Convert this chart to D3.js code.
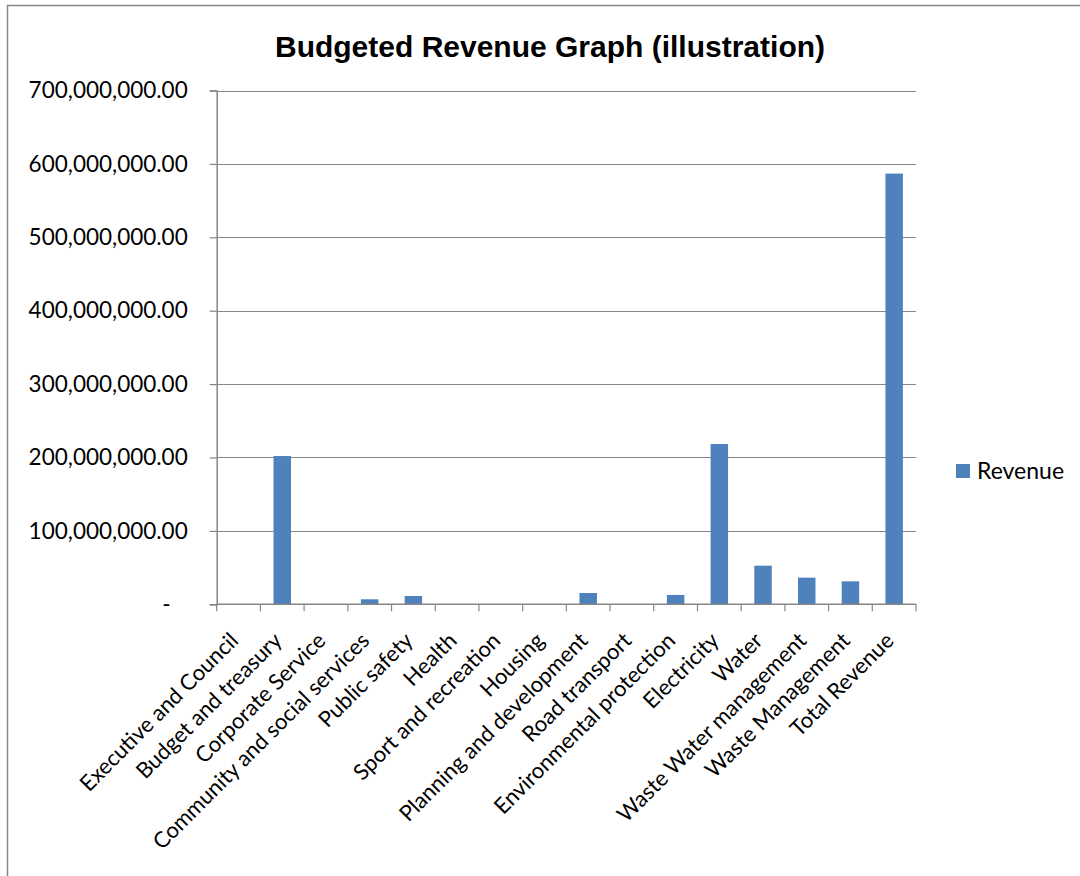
<!DOCTYPE html>
<html>
<head>
<meta charset="utf-8">
<script src="https://cdn.jsdelivr.net/npm/d3@7"></script>
<style>
  body { margin: 0; background: #fff; }
  svg { display: block; }
</style>
</head>
<body>
<script>
// chart data
var categories = ["Executive and Council", "Budget and treasury", "Corporate Service",
  "Community and social services", "Public safety", "Health", "Sport and recreation",
  "Housing", "Planning and development", "Road transport", "Environmental protection",
  "Electricity", "Water", "Waste Water management", "Waste Management", "Total Revenue"];
var revenue = [0, 202000000, 0, 6800000, 11300000, 0, 0, 0, 15400000, 0, 12700000,
  218400000, 52600000, 36300000, 31300000, 586800000];
var yTicks = [0, 100000000, 200000000, 300000000, 400000000, 500000000, 600000000, 700000000];
var seriesName = "Revenue";
var title = "Budgeted Revenue Graph (illustration)";

var width = 1080, height = 876;
var plot = {left: 216.7, right: 916, top: 90.5, bottom: 604.3};
var labelFont = "Lato, 'Open Sans', sans-serif";

var svg = d3.select("body").append("svg")
  .attr("width", width)
  .attr("height", height);

// outer chart frame
svg.append("rect")
  .attr("x", 7.5).attr("y", 5.5)
  .attr("width", 1200).attr("height", 1000)
  .attr("fill", "#fff")
  .attr("stroke", "#868686")
  .attr("stroke-width", 1.5);

svg.append("text")
  .attr("x", 550).attr("y", 57)
  .attr("text-anchor", "middle")
  .attr("font-family", "'Liberation Sans', Arial, sans-serif")
  .attr("font-weight", "bold")
  .attr("font-size", 30)
  .attr("fill", "#000")
  .text(title);

var x = d3.scaleBand()
  .domain(categories)
  .range([plot.left, plot.right])
  .paddingInner(0.6)
  .paddingOuter(0.3);

var y = d3.scaleLinear()
  .domain([0, 700000000])
  .range([plot.bottom, plot.top]);

var fmt = d3.format(",.2f");

// gridlines
svg.append("g").selectAll("line")
  .data(yTicks.filter(function(d){ return d > 0; }))
  .enter().append("line")
  .attr("x1", plot.left).attr("x2", plot.right)
  .attr("y1", function(d){ return Math.round(y(d)) + 0.5; })
  .attr("y2", function(d){ return Math.round(y(d)) + 0.5; })
  .attr("stroke", "#868686")
  .attr("stroke-width", 1.2);

// y axis
var yAxis = svg.append("g")
  .attr("transform", "translate(" + plot.left + ",0)")
  .call(d3.axisLeft(y).tickValues(yTicks).tickSize(7).tickPadding(22)
    .tickFormat(function(d){ return d === 0 ? "-" : fmt(d); }));
yAxis.select(".domain").attr("stroke", "#868686").attr("stroke-width", 1.5);
yAxis.selectAll(".tick line").attr("stroke", "#868686").attr("stroke-width", 1.2);
yAxis.selectAll(".tick text")
  .attr("font-family", labelFont)
  .attr("font-size", 22.5)
  .attr("fill", "#000")
  .attr("dx", function(d){ return d === 0 ? -17 : 0; });

// bars
svg.append("g").selectAll("rect")
  .data(revenue)
  .enter().append("rect")
  .attr("x", function(d, i){ return x(categories[i]); })
  .attr("width", x.bandwidth())
  .attr("y", function(d){ return y(d); })
  .attr("height", function(d){ return y(0) - y(d); })
  .attr("fill", "#4F81BD");

// x axis baseline + ticks at category boundaries
var xAxis = svg.append("g");
xAxis.append("line")
  .attr("x1", plot.left).attr("x2", plot.right)
  .attr("y1", plot.bottom).attr("y2", plot.bottom)
  .attr("stroke", "#868686").attr("stroke-width", 1.5);
var bounds = d3.range(categories.length + 1).map(function(i){ return plot.left + i * x.step(); });
xAxis.selectAll(".xtick")
  .data(bounds)
  .enter().append("line")
  .attr("class", "xtick")
  .attr("x1", function(d){ return d; }).attr("x2", function(d){ return d; })
  .attr("y1", plot.bottom).attr("y2", plot.bottom + 7)
  .attr("stroke", "#868686").attr("stroke-width", 1.2);

xAxis.selectAll(".xlabel")
  .data(categories)
  .enter().append("text")
  .attr("class", "xlabel")
  .attr("transform", function(d){
    var cx = x(d) + x.bandwidth() / 2 + 1;
    return "translate(" + cx + ",642) rotate(-45)";
  })
  .attr("text-anchor", "end")
  .attr("font-family", labelFont)
  .attr("font-size", 22)
  .attr("fill", "#000")
  .text(function(d){ return d; });

// legend
var legend = svg.append("g").attr("transform", "translate(956,464)");
legend.append("rect")
  .attr("width", 14).attr("height", 14)
  .attr("fill", "#4F81BD");
legend.append("text")
  .attr("x", 21).attr("y", 14.5)
  .attr("font-family", labelFont)
  .attr("font-size", 23)
  .attr("fill", "#000")
  .text(seriesName);
</script>
</body>
</html>
